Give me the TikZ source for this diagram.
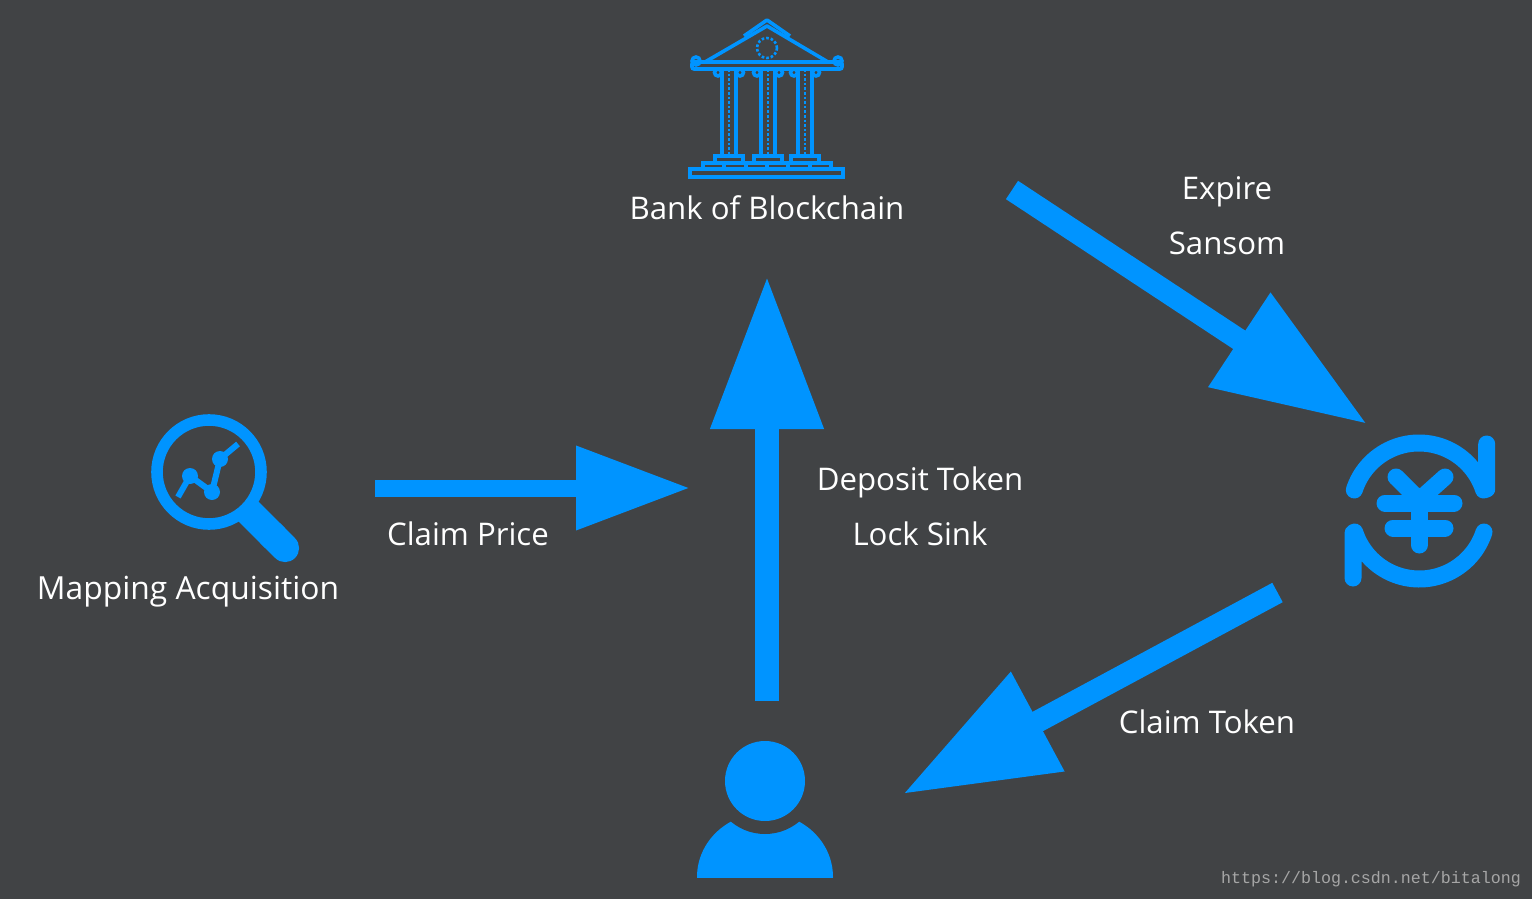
\documentclass[tikz,border=0pt]{standalone}
\usepackage{fontspec}
\setmainfont{Open Sans}
\newfontfamily\urlfont{Liberation Mono}
\usetikzlibrary{arrows.meta}

\definecolor{darkback}{HTML}{414345}
\definecolor{iconblue}{HTML}{0094FF}

\def\headcircle{(765,781) circle (40)}
\def\neckcircle{(765,781) circle (53)}
\def\bodyellipse{(765,877) ellipse (68 and 64)}

\tikzset{
    label/.style={text=white,font=\fontsize{15.6}{18}\selectfont,anchor=base,inner sep=0pt},
    bigarrow/.style={draw=iconblue,fill=iconblue,line width=11pt,-{Triangle[length=76.5pt,width=53.5pt]}},
    smallarrow/.style={draw=iconblue,fill=iconblue,line width=8.5pt,-{Triangle[length=57pt,width=40pt]}},
    bankline/.style={draw=iconblue,line width=1.8pt},
    bankdots/.style={draw=iconblue,line width=1.3pt,densely dotted},
    iconline/.style={draw=iconblue,line width=8.5pt,line cap=round,line join=round},
}

\begin{document}
\begin{tikzpicture}[x=0.5pt,y=-0.5pt]
    \fill[darkback] (0,0) rectangle (1532,899);
    \useasboundingbox (0,0) rectangle (1532,899);

    % bank
    \draw[bankline,line join=round] (705,62) -- (767,26) -- (828,62);
    \draw[bankline,line join=round] (744,36) -- (767,20) -- (790,36);
    \draw[bankdots] (767,48) circle (10);
    \draw[bankline,rounded corners=1pt] (692,62) rectangle (842,69);
    \draw[bankline] (696,61) circle (4);
    \draw[bankline] (838,61) circle (4);
    \foreach \c in {729,768,805} {
        \draw[bankline] (\c-7,69) -- (\c-7,156);
        \draw[bankline] (\c+7,69) -- (\c+7,156);
        \draw[bankdots] (\c,69) -- (\c,156);
        \draw[bankline] (\c-11,72.5) circle (3.5);
        \draw[bankline] (\c+11,72.5) circle (3.5);
        \draw[bankline] (\c-14,156) rectangle (\c+14,163);
    }
    \draw[bankline] (703,163) rectangle (831,169);
    \foreach \t in {724,746,767,788,810} {
        \draw[bankline] (\t,163) -- (\t,169);
    }
    \draw[bankline] (690,169) rectangle (843,177);
    \node[label] (bank) at (767,220) {Bank of Blockchain};

    % magnifier
    \draw[iconblue,line width=5.8pt] (209,472) circle (52);
    \draw[iconblue,line width=14pt,-{Round Cap[]}] (246,509) -- (295,558);
    \draw[iconblue,line width=3pt] (178,497) -- (190,476) -- (212,492) -- (220,459) -- (238,444);
    \foreach \p in {(190,476),(212,492),(220,459)} {
        \fill[iconblue] \p circle (8);
    }
    \node[label,font=\fontsize{15.9}{18}\selectfont] (mapping) at (188,599) {Mapping Acquisition};

    % yuan exchange
    \draw[iconline] (1354.3,490) arc (198:342:68) -- (1486.7,489) -- (1486.7,444);
    \draw[iconline] (1484,532) arc (18:162:68) -- (1353,533) -- (1353,578);
    \draw[iconline] (1396,477) -- (1419.3,500) -- (1445,477);
    \draw[iconline] (1385,503) -- (1454,503);
    \draw[iconline] (1393,528) -- (1445,528);
    \draw[iconline] (1419.3,500) -- (1419.3,545);

    % person
    \begin{scope}
      \clip (690,800) rectangle (840,877);
      \fill[iconblue] \bodyellipse;
      \fill[darkback] \neckcircle;
    \end{scope}
    \fill[iconblue] \headcircle;

    % block arrows
    \coordinate (priceout) at (375,488);
    \coordinate (pricein) at (690,488);
    \coordinate (personup) at (767,701);
    \coordinate (bankin) at (767,276);
    \coordinate (bankout) at (1012,190);
    \coordinate (yuanin) at (1367,424);
    \coordinate (yuanout) at (1277.5,592.5);
    \coordinate (personin) at (903,794);

    \draw[smallarrow] (priceout) -- (pricein);
    \draw[bigarrow,line width=12pt] (personup) -- (bankin);
    \draw[bigarrow] (bankout) -- (yuanin);
    \draw[bigarrow] (yuanout) -- (personin);

    \node[label] (expire) at (1227,199) {Expire};
    \node[label] (sansom) at (1227,254) {Sansom};
    \node[label] (deposit) at (920,490) {Deposit Token};
    \node[label] (lock) at (920,545) {Lock Sink};
    \node[label] (price) at (468,545) {Claim Price};
    \node[label] (token) at (1207,733) {Claim Token};
    \node[text=black!35,font=\urlfont\fontsize{8.33}{10}\selectfont,inner sep=0pt] (url) at (1371,879) {https://blog.csdn.net/bitalong};
\end{tikzpicture}
\end{document}
